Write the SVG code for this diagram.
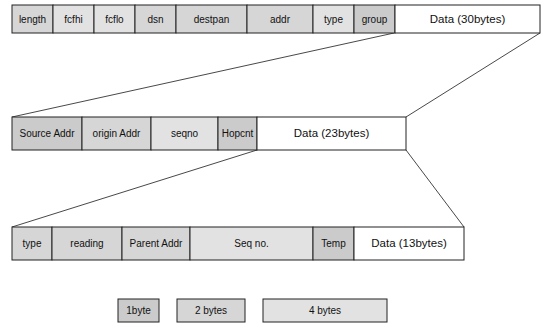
<svg xmlns="http://www.w3.org/2000/svg" width="546" height="331" viewBox="0 0 546 331">
<style>
.b{stroke:#222;stroke-width:1}
text{font-family:"Liberation Sans",Arial,sans-serif;font-size:10px;fill:#111;text-anchor:middle}
.dk{fill:#cbcbcb}.md{fill:#d6d6d6}.lt{fill:#e2e2e2}.wt{fill:#fff}
.big{font-size:11.5px}
#connectors line{stroke:#333;stroke-width:0.9}
</style>
<rect x="0" y="0" width="546" height="331" fill="#fff"/>
<g id="connectors">
<line x1="394" y1="33" x2="12" y2="117"/>
<line x1="540" y1="33" x2="406" y2="117"/>
<line x1="257" y1="150" x2="12" y2="227"/>
<line x1="406" y1="150" x2="464" y2="227"/>
</g>
<g id="row1">
<g id="length"><rect class="b md" x="12" y="5" width="41" height="28"/><text x="32.5" y="23">length</text></g>
<g id="fcfhi"><rect class="b lt" x="53" y="5" width="41" height="28"/><text x="73.5" y="23">fcfhi</text></g>
<g id="fcflo"><rect class="b lt" x="94" y="5" width="41" height="28"/><text x="114.5" y="23">fcflo</text></g>
<g id="dsn"><rect class="b md" x="135" y="5" width="41" height="28"/><text x="155.5" y="23">dsn</text></g>
<g id="destpan"><rect class="b md" x="176" y="5" width="71" height="28"/><text x="211.5" y="23">destpan</text></g>
<g id="addr"><rect class="b md" x="247" y="5" width="66" height="28"/><text x="280" y="23">addr</text></g>
<g id="type1"><rect class="b lt" x="313" y="5" width="41" height="28"/><text x="333.5" y="23">type</text></g>
<g id="group"><rect class="b dk" x="354" y="5" width="41" height="28"/><text x="374.5" y="23">group</text></g>
<g id="data30"><rect class="b wt" x="395" y="5" width="145" height="28"/><text class="big" x="467.5" y="23">Data (30bytes)</text></g>
</g>
<g id="row2">
<g id="srcaddr"><rect class="b dk" x="12" y="117" width="70" height="33"/><text x="47" y="137">Source Addr</text></g>
<g id="originaddr"><rect class="b md" x="82" y="117" width="69" height="33"/><text x="116.5" y="137">origin Addr</text></g>
<g id="seqno"><rect class="b lt" x="151" y="117" width="67" height="33"/><text x="184.5" y="137">seqno</text></g>
<g id="hopcnt"><rect class="b dk" x="218" y="117" width="39" height="33"/><text x="237.5" y="137">Hopcnt</text></g>
<g id="data23"><rect class="b wt" x="257" y="117" width="149" height="33"/><text class="big" x="331.5" y="137">Data (23bytes)</text></g>
</g>
<g id="row3">
<g id="type3"><rect class="b md" x="12" y="227" width="40" height="33"/><text x="32" y="247">type</text></g>
<g id="reading"><rect class="b md" x="52" y="227" width="70" height="33"/><text x="87" y="247">reading</text></g>
<g id="parentaddr"><rect class="b md" x="122" y="227" width="68" height="33"/><text x="156" y="247">Parent Addr</text></g>
<g id="seqno3"><rect class="b lt" x="190" y="227" width="123" height="33"/><text x="251.5" y="247">Seq no.</text></g>
<g id="temp"><rect class="b dk" x="313" y="227" width="41" height="33"/><text x="333.5" y="247">Temp</text></g>
<g id="data13"><rect class="b wt" x="354" y="227" width="110" height="33"/><text class="big" x="409" y="247">Data (13bytes)</text></g>
</g>
<g id="legend">
<g id="l1"><rect class="b dk" x="118" y="299" width="41" height="23"/><text x="138.5" y="314">1byte</text></g>
<g id="l2"><rect class="b md" x="177" y="299" width="68" height="23"/><text x="211" y="314">2 bytes</text></g>
<g id="l4"><rect class="b lt" x="263" y="299" width="124" height="23"/><text x="325" y="314">4 bytes</text></g>
</g>
</svg>
